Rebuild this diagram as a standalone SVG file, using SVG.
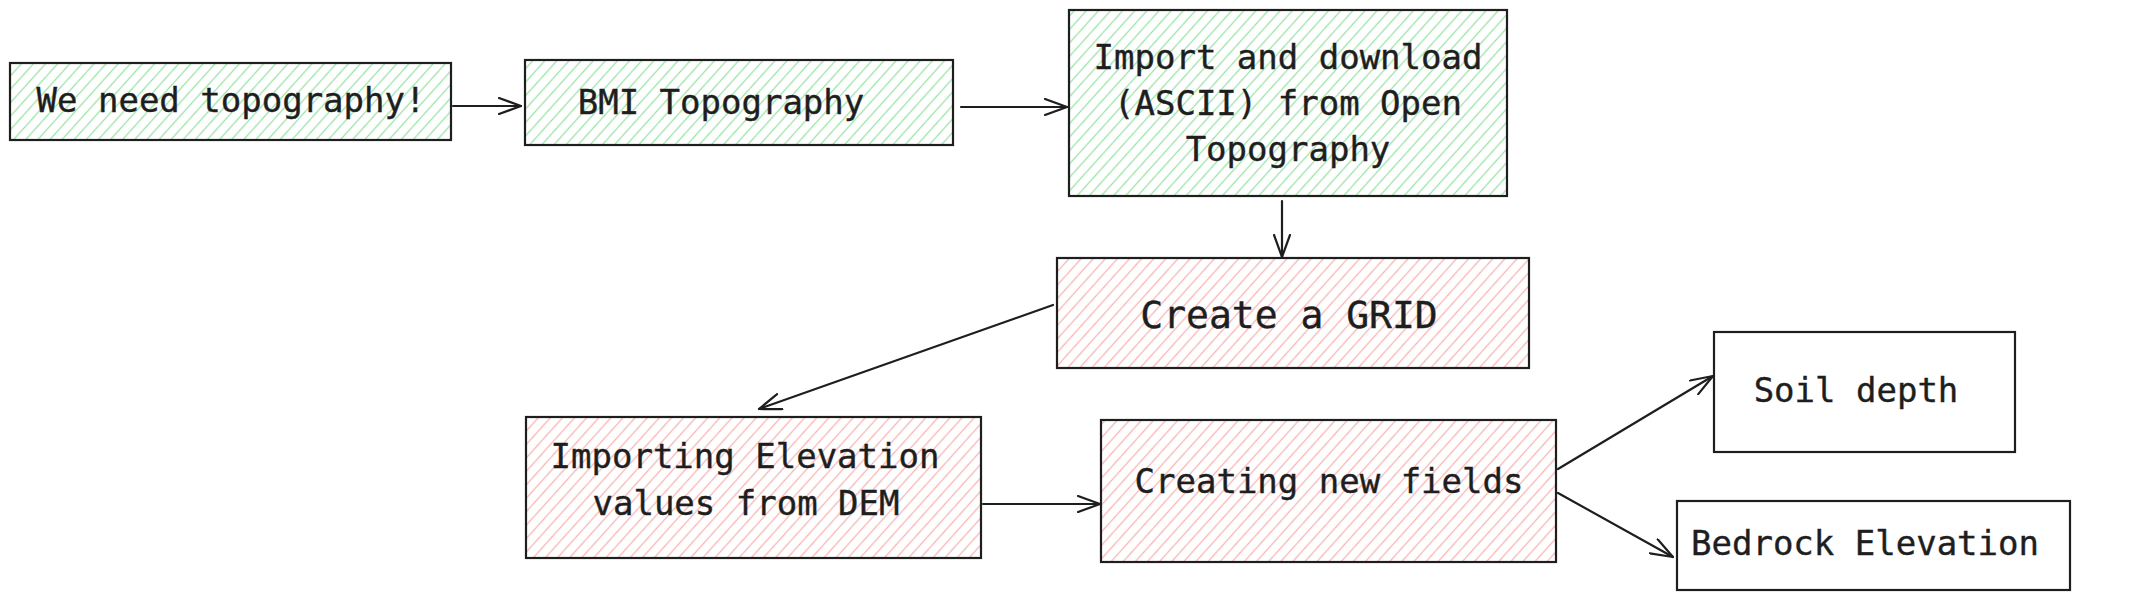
<svg xmlns="http://www.w3.org/2000/svg" width="2132" height="600" viewBox="0 0 2132 600">
<defs>
<pattern id="hg" patternUnits="userSpaceOnUse" width="9" height="9" patternTransform="rotate(-48)">
<line x1="0" y1="4.5" x2="9" y2="4.5" stroke="#9be3a8" stroke-width="1.3"/>
</pattern>
<pattern id="hr" patternUnits="userSpaceOnUse" width="9" height="9" patternTransform="rotate(-48)">
<line x1="0" y1="4.5" x2="9" y2="4.5" stroke="#f7b5b5" stroke-width="1.3"/>
</pattern>
<marker id="ah" viewBox="0 0 24 18" refX="23" refY="9" markerWidth="24" markerHeight="18" markerUnits="userSpaceOnUse" orient="auto">
<path d="M1,1 L23,9 L1,17" fill="none" stroke="#1e1e1e" stroke-width="2.2" stroke-linecap="round" stroke-linejoin="round"/>
</marker>
</defs>
<style>
.box{stroke:#1e1e1e;stroke-width:2.2}
.g{fill:url(#hg)}
.r{fill:url(#hr)}
.w{fill:#ffffff}
.t{font-family:"DejaVu Sans Mono","Liberation Mono",monospace;font-size:34px;fill:#1e1e1e;text-anchor:middle;stroke:#1e1e1e;stroke-width:0.4}
.big{font-size:38px}
.c{fill:none;stroke:#1e1e1e;stroke-width:2.2;stroke-linecap:round;marker-end:url(#ah)}
</style>
<rect width="2132" height="600" fill="#ffffff"/>
<g id="n1">
<rect class="box g" x="10" y="63" width="441" height="77"/>
<text class="t" x="231" y="112">We need topography!</text>
</g>
<g id="n2">
<rect class="box g" x="525" y="60" width="428" height="85"/>
<text class="t" x="721" y="114">BMI Topography</text>
</g>
<g id="n3">
<rect class="box g" x="1069" y="10" width="438" height="186"/>
<text class="t" x="1288" y="69">Import and download</text>
<text class="t" x="1288" y="115">(ASCII) from Open</text>
<text class="t" x="1288" y="161">Topography</text>
</g>
<g id="n4">
<rect class="box r" x="1057" y="258" width="472" height="110"/>
<text class="t big" x="1289" y="328">Create a GRID</text>
</g>
<g id="n5">
<rect class="box r" x="526" y="417" width="455" height="141"/>
<text class="t" x="745" y="468">Importing Elevation</text>
<text class="t" x="746" y="515">values from DEM</text>
</g>
<g id="n6">
<rect class="box r" x="1101" y="420" width="455" height="142"/>
<text class="t" x="1329" y="493">Creating new fields</text>
</g>
<g id="n7">
<rect class="box w" x="1714" y="332" width="301" height="120"/>
<text class="t" x="1856" y="402">Soil depth</text>
</g>
<g id="n8">
<rect class="box w" x="1677" y="501" width="393" height="89"/>
<text class="t" x="1865" y="555">Bedrock Elevation</text>
</g>
<g id="connectors">
<line class="c" x1="453" y1="106" x2="521" y2="106"/>
<line class="c" x1="961" y1="107" x2="1067" y2="107"/>
<line class="c" x1="1282" y1="201" x2="1282" y2="257"/>
<line class="c" x1="1053" y1="305" x2="759" y2="409"/>
<line class="c" x1="983" y1="504" x2="1100" y2="504"/>
<line class="c" x1="1558" y1="469" x2="1713" y2="376"/>
<line class="c" x1="1558" y1="493" x2="1673" y2="557"/>
</g>
</svg>
